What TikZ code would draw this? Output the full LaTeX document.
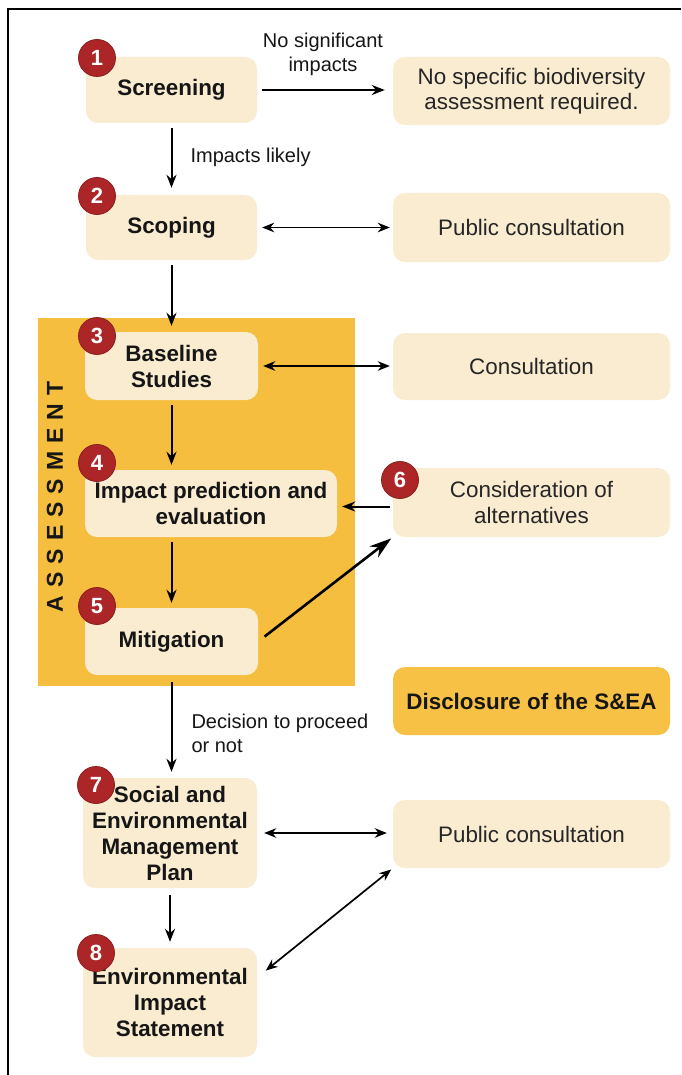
\documentclass[tikz,border=0pt]{standalone}
\usepackage{fontspec}
\setmainfont{Liberation Sans}
\usetikzlibrary{arrows.meta}
\definecolor{cream}{RGB}{250,236,208}
\definecolor{assess}{RGB}{246,190,62}
\definecolor{discl}{RGB}{247,193,70}
\definecolor{badgec}{RGB}{172,38,40}
\definecolor{txt}{RGB}{22,22,22}
\definecolor{rtxt}{RGB}{38,38,38}
\begin{document}
\begin{tikzpicture}[x=1pt,y=-1pt,
 box/.style={rounded corners=12pt, fill=cream, inner sep=0pt, align=center},
 lbox/.style={box, text=txt, font=\fontsize{22.4}{26}\selectfont\bfseries},
 rbox/.style={box, text=rtxt, minimum width=277pt, font=\fontsize{22.4}{25.5}\selectfont},
 badge/.style={circle, fill=badgec, draw=badgec!80!black, line width=0.8pt, minimum size=37pt, inner sep=0pt, text=white, font=\fontsize{22}{22}\selectfont\bfseries},
 lbl/.style={font=\fontsize{20}{24}\selectfont, text=txt},
 arr/.style={-{Stealth[length=13pt,width=10pt]}, line width=2pt},
 darr/.style={{Stealth[length=12pt,width=9.5pt]}-{Stealth[length=12pt,width=9.5pt]}, line width=1.7pt},
 bigarr/.style={-{Stealth[length=22pt,width=14pt]}, line width=2.6pt},
]
\useasboundingbox (0,0) rectangle (681,1075);
\fill[white] (0,0) rectangle (681,1075);
\draw[line width=2.5pt] (8,1075) -- (8,9) -- (681,9);

% assessment band
\node[fill=assess, minimum width=317pt, minimum height=368pt, inner sep=0pt] (asm) at (196.5,502) {};
\node[rotate=90, text=txt, font=\fontsize{23}{23}\selectfont\bfseries] (asmlbl) at (55,497)
 {A\hspace{8pt}S\hspace{8pt}S\hspace{8pt}E\hspace{8pt}S\hspace{8pt}S\hspace{8pt}M\hspace{8pt}E\hspace{8pt}N\hspace{8pt}T};

% left column
\node[lbox, minimum width=171pt, minimum height=66pt] (scr) at (171.5,90) {Screening};
\node[lbox, minimum width=171pt, minimum height=65pt] (scop) at (171.5,227.5) {Scoping};
\node[lbox, minimum width=173pt, minimum height=68pt] (base) at (171.5,366) {Baseline\\Studies};
\node[lbox, minimum width=252pt, minimum height=67pt] (imp) at (211,503.5) {Impact prediction and\\evaluation};
\node[lbox, minimum width=173pt, minimum height=67pt] (mit) at (171.5,641.5) {Mitigation};
\node[lbox, minimum width=174pt, minimum height=110pt] (semp) at (170,833) {Social and\\Environmental\\Management\\Plan};
\node[lbox, minimum width=174pt, minimum height=109pt] (eis) at (170,1002.5) {Environmental\\Impact\\Statement};

% right column
\node[rbox, minimum height=68pt] (nospec) at (531.5,91) {No specific biodiversity\\assessment required.};
\node[rbox, minimum height=69pt] (pc1) at (531.5,227.5) {Public consultation};
\node[rbox, minimum height=67pt] (cons) at (531.5,366.5) {Consultation};
\node[rbox, minimum height=69pt] (alt) at (531.5,502.5) {Consideration of\\alternatives};
\node[box, fill=discl, text=txt, minimum width=277pt, minimum height=68pt, font=\fontsize{22.4}{26}\selectfont\bfseries] (disc) at (531.5,701) {Disclosure of the S\&EA};
\node[rbox, minimum height=68pt] (pc2) at (531.5,834) {Public consultation};

% badges
\node[badge] (n1) at (97,58) {1};
\node[badge] (n2) at (97,196) {2};
\node[badge] (n3) at (97,336) {3};
\node[badge] (n4) at (97,463) {4};
\node[badge] (n5) at (97,606) {5};
\node[badge] (n6) at (400,480) {6};
\node[badge] (n7) at (96,785) {7};
\node[badge] (n8) at (96,953) {8};

% labels
\node[lbl, align=center] (lns) at (323,54) {No significant\\impacts};
\node[lbl, anchor=west] (lil) at (187,157) {Impacts likely};
\node[lbl, align=left, anchor=west] (ldec) at (188,733) {Decision to proceed\\or not};

% connectors
\draw[arr, shorten <=5pt, shorten >=8pt] (scr.east) -- (scr.east -| nospec.west);
\draw[arr, shorten <=5pt, shorten >=7pt] (scr.south) -- (scr.south |- scop.north);
\draw[darr, shorten <=5pt, shorten >=3pt] (scop.east) -- (scop.east -| pc1.west);
\draw[arr, shorten <=5pt, shorten >=6pt] (scop.south) -- (scop.south |- base.north);
\draw[darr, shorten <=5pt, shorten >=3pt] (base.east) -- (base.east -| cons.west);
\draw[arr, shorten <=5pt, shorten >=5pt] (base.south) -- (base.south |- imp.north);
\draw[arr, shorten <=5pt, shorten >=5pt] (mit.north |- imp.south) -- (mit.north);
\draw[arr, shorten <=3pt, shorten >=5pt] ([yshift=-4pt]alt.west) -- ([yshift=-4pt]alt.west -| imp.east);
\draw[bigarr, shorten <=8pt, shorten >=2pt] (mit.east) -- (alt.south west);
\draw[arr, shorten <=7pt, shorten >=6pt] (mit.south) -- (mit.south |- semp.north);
\draw[darr, shorten <=7pt, shorten >=6pt] (semp.east) -- (semp.east -| pc2.west);
\draw[arr, shorten <=7pt, shorten >=6pt] (semp.south) -- (semp.south |- eis.north);
\draw[darr, shorten <=11pt, shorten >=2pt] ([yshift=25pt]eis.east) -- (pc2.south west);
\end{tikzpicture}
\end{document}
